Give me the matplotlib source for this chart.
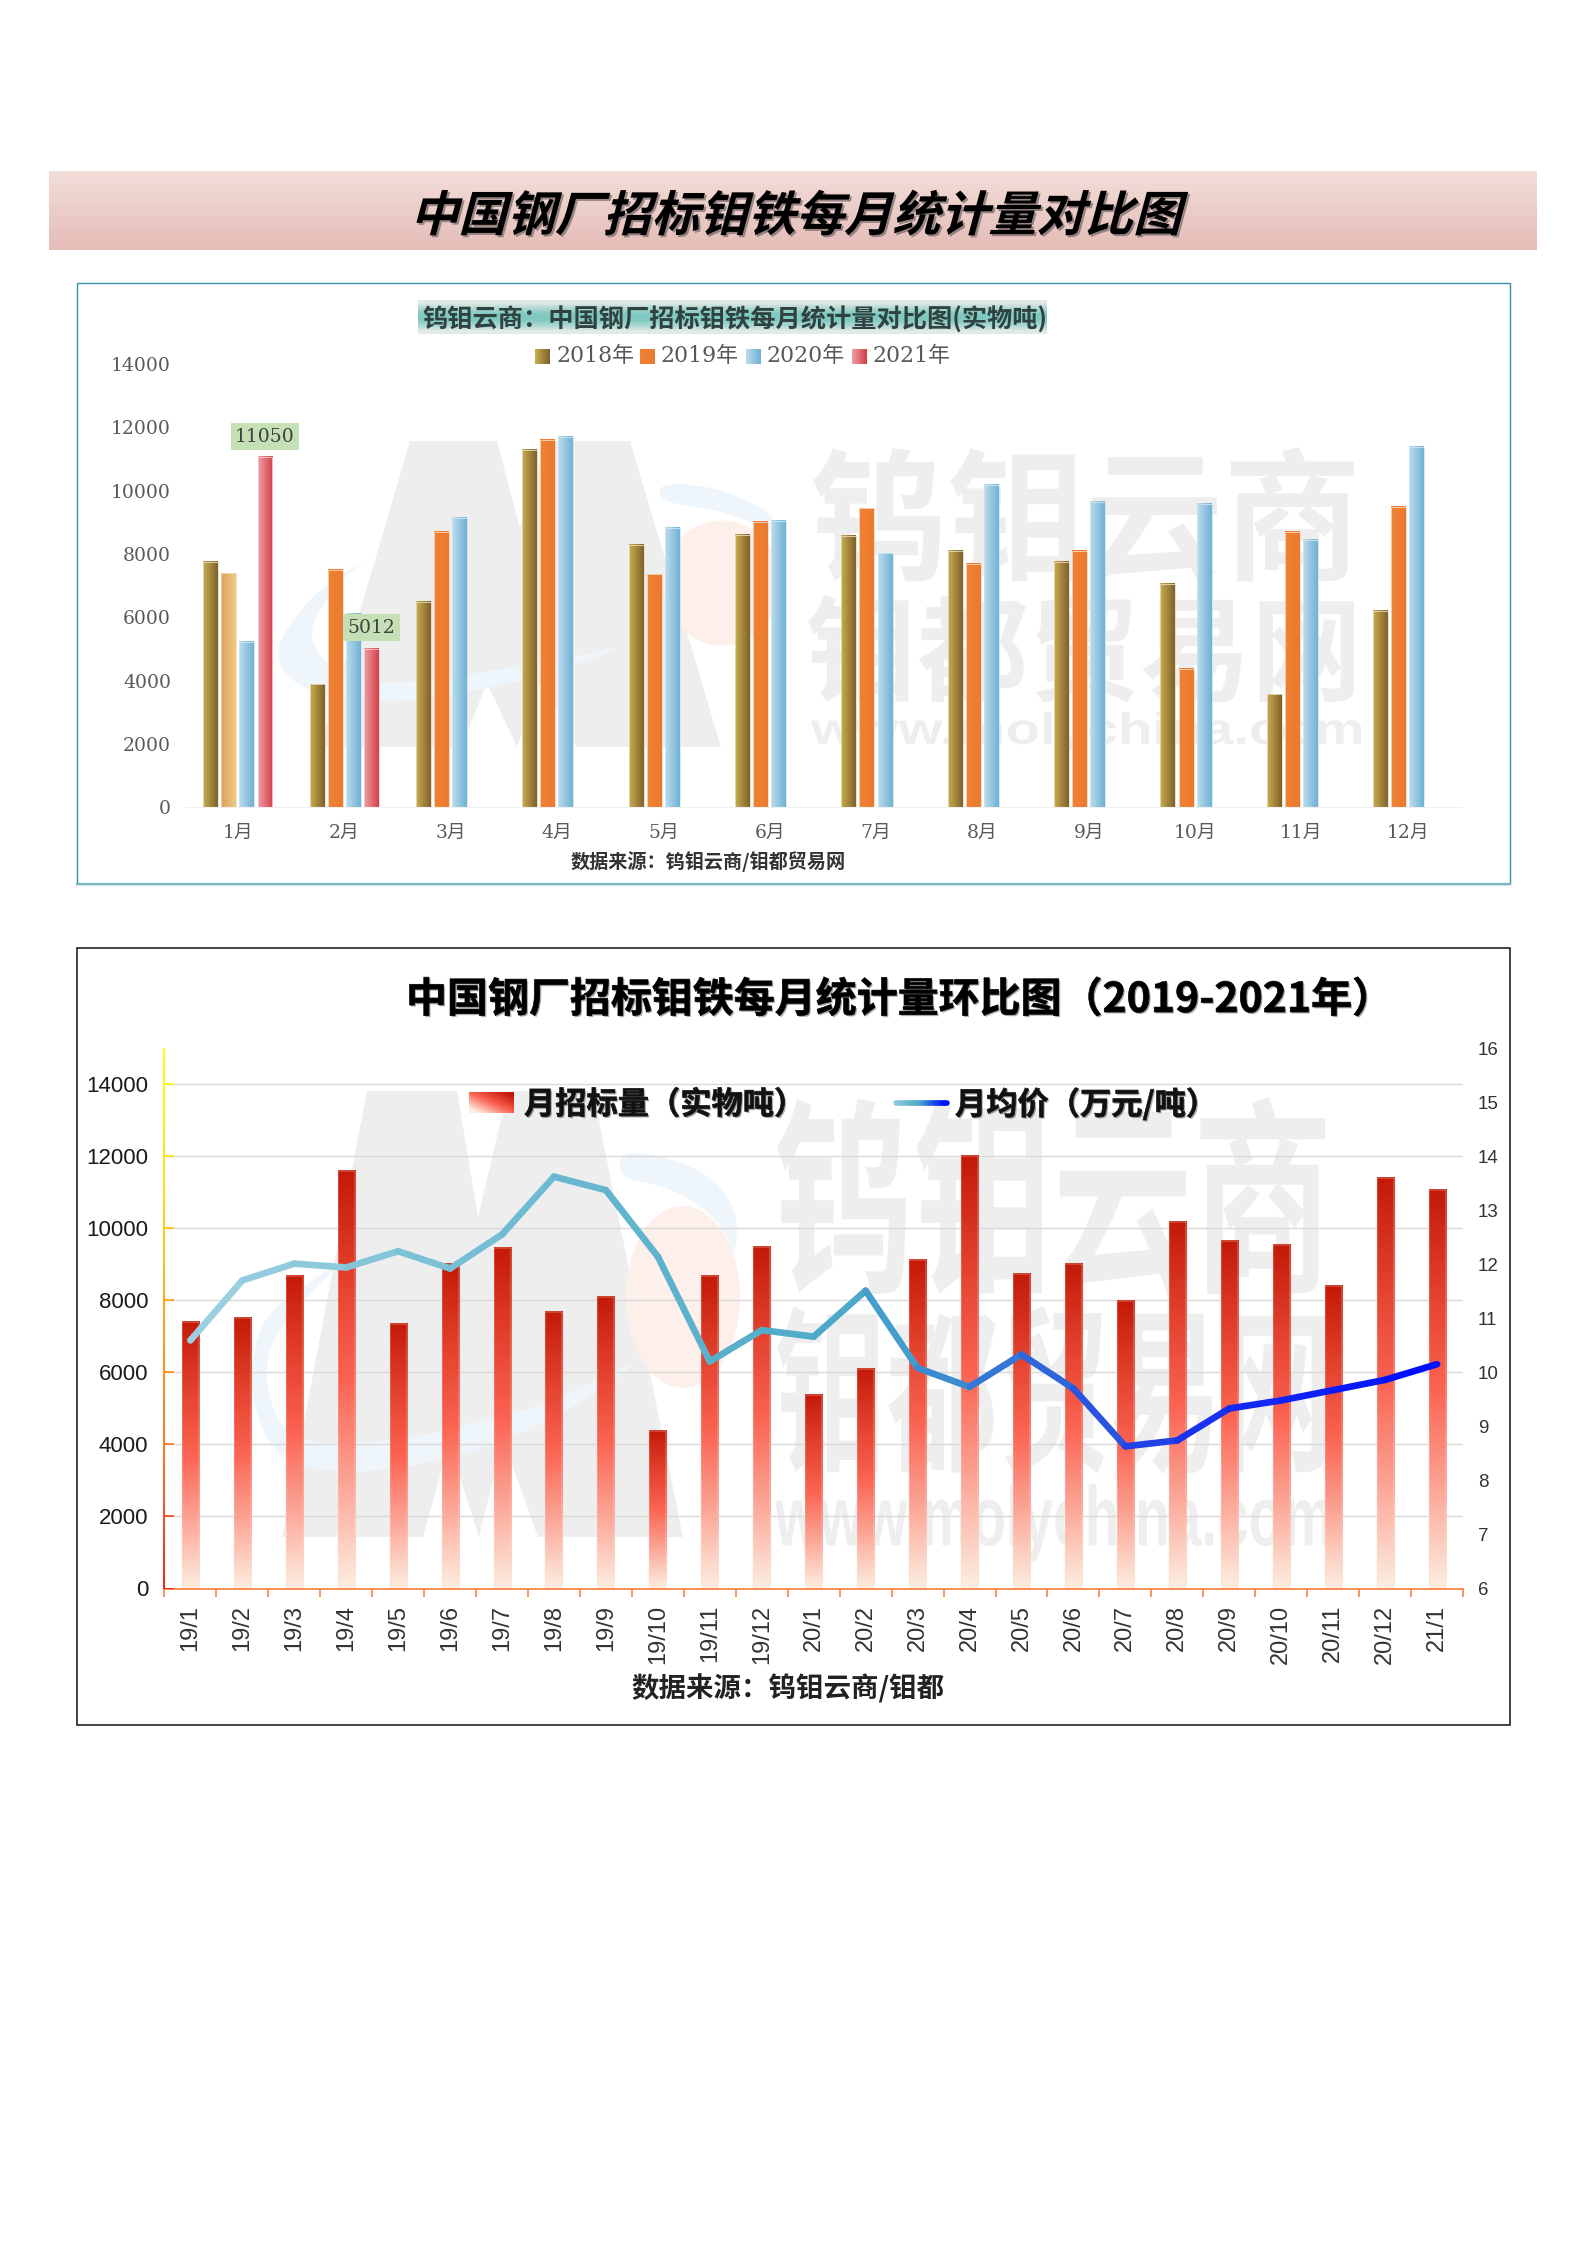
import numpy as np
import matplotlib
matplotlib.use('Agg')
import matplotlib.pyplot as plt
import matplotlib.patheffects as pe
from matplotlib.collections import LineCollection
from matplotlib.colors import LinearSegmentedColormap
from matplotlib.font_manager import FontProperties
from matplotlib.patches import Ellipse, Polygon, Rectangle
from matplotlib.textpath import TextPath
from matplotlib.transforms import Affine2D

plt.rcParams['font.family'] = ['Noto Sans CJK SC', 'DejaVu Sans']

W, H = 1587, 2245
CJK = 'Noto Sans CJK SC'
SERIF = ['DejaVu Serif', CJK]

# chart 1
months = ['1月', '2月', '3月', '4月', '5月', '6月', '7月', '8月', '9月', '10月', '11月', '12月']
vol_2018 = [7762, 3880, 6493, 11295, 8275, 8607, 8577, 8094, 7761, 7052, 3564, 6191]
vol_2019 = [7384, 7505, 8683, 11597, 7354, 9015, 9437, 7686, 8094, 4364, 8683, 9483]
vol_2020 = [5225, 6116, 9136, 11702, 8833, 9045, 8018, 10177, 9649, 9573, 8441, 11370]
vol_2021 = [11050, 5012]
years = ['2018年', '2019年', '2020年', '2021年']
ticks_1 = [0, 2000, 4000, 6000, 8000, 10000, 12000, 14000]

# chart 2
periods = ['19/1', '19/2', '19/3', '19/4', '19/5', '19/6', '19/7', '19/8', '19/9', '19/10', '19/11', '19/12',
           '20/1', '20/2', '20/3', '20/4', '20/5', '20/6', '20/7', '20/8', '20/9', '20/10', '20/11', '20/12', '21/1']
monthly_volume = [7406, 7507, 8683, 11597, 7354, 9015, 9437, 7686, 8094, 4364, 8683, 9483,
                  5358, 6098, 9104, 11990, 8727, 9002, 7986, 10178, 9656, 9525, 8393, 11398, 11064]
monthly_price = [10.59, 11.70, 12.01, 11.94, 12.24, 11.92, 12.55, 13.62, 13.37, 12.14, 10.20, 10.78,
                 10.66, 11.51, 10.08, 9.73, 10.33, 9.70, 8.63, 8.74, 9.33, 9.48, 9.67, 9.86, 10.15]
ticks_left = [0, 2000, 4000, 6000, 8000, 10000, 12000, 14000]
ticks_right = [6, 7, 8, 9, 10, 11, 12, 13, 14, 15, 16]


class WarpText(pe.AbstractPathEffect):
    # text stays text, only the glyph outlines get sheared / stretched
    def __init__(self, sy=1, skew=0, shadow=None, stroke=0):
        super().__init__()
        self.sy, self.skew, self.shadow, self.stroke = sy, skew, shadow, stroke

    def draw_path(self, renderer, gc, tpath, affine, rgbFace=None):
        warp = Affine2D().skew_deg(self.skew, 0).scale(1, self.sy) + affine
        if self.shadow:
            dx, dy, col = self.shadow
            renderer.draw_path(gc, tpath, warp + Affine2D().translate(dx, -dy), col)
        gc0 = renderer.new_gc()
        gc0.copy_properties(gc)
        gc0.set_linewidth(self.stroke)
        if self.stroke:
            gc0.set_foreground(rgbFace)
        renderer.draw_path(gc0, tpath, warp, rgbFace)
        gc0.restore()


def make_cmap(*colors):
    return LinearSegmentedColormap.from_list('c', list(colors))


def add_axes(l, t, r, b, **kw):
    return fig.add_axes([l / W, 1 - b / H, (r - l) / W, (b - t) / H], **kw)


def gradient_bar(ax, x, h, width, cmap, horizontal=True, edge='#ffffff', edge_w=0.6):
    grad = np.linspace(0, 1, 128).reshape(1, -1) if horizontal else np.linspace(0, 1, 256).reshape(-1, 1)
    ax.imshow(grad, extent=[x - width / 2, x + width / 2, 0, h], aspect='auto', cmap=cmap,
              vmin=0, vmax=1, origin='upper', zorder=2, interpolation='nearest')
    ax.bar(x, h, width, facecolor='none', edgecolor=edge, linewidth=edge_w, zorder=2.1)


def fit_text(ax, s, x0, x1, top, bottom, weight='bold', family=CJK):
    # stretch a watermark string to the box it takes in the picture
    bb = TextPath((0, 0), s, size=100, prop=FontProperties(family=family, weight=weight)).get_extents()
    size = 72 * (x1 - x0) / bb.width
    k = size / 72
    sy = (bottom - top) / (bb.height * k)
    ax.text(x0 - bb.x0 * k, bottom + bb.y0 * k * sy, s, fontsize=size, family=family, weight=weight,
            color='#eeeeee', ha='left', va='baseline', zorder=1,
            path_effects=[WarpText(sy)])


def smooth(pts, rounds=2):
    # corner cutting, the logo curves are soft
    for _ in range(rounds):
        nxt = np.roll(pts, -1, axis=0)
        pts = np.column_stack([0.75 * pts + 0.25 * nxt, 0.25 * pts + 0.75 * nxt]).reshape(-1, 2)
    return pts


# logo pieces in picture pixels
m_low = np.array([(282, 1537), (367, 1091), (457, 1091), (478, 1217), (508, 1091), (593, 1091), (683, 1537),
                  (538, 1537), (503, 1439), (479, 1537), (449, 1443), (423, 1537)], float)
swoosh_low = np.array([(340, 1262), (293, 1293), (260, 1323), (251, 1370), (255, 1415), (275, 1452), (303, 1468),
                       (360, 1473), (420, 1465), (483, 1448), (537, 1427), (603, 1390), (643, 1357), (603, 1378),
                       (537, 1407), (487, 1418), (420, 1437), (353, 1443), (310, 1443), (280, 1427), (265, 1385),
                       (270, 1343), (293, 1313), (330, 1273)], float)
swoosh_low_top = np.array([(620, 1152), (660, 1155), (707, 1173), (733, 1203), (738, 1233), (733, 1257), (733, 1250),
                           (720, 1223), (693, 1200), (660, 1185), (620, 1178)], float)
m_up = np.array([(320, 747), (410, 441), (497, 441), (520, 528), (546, 441), (630, 441), (721, 747),
                 (577, 747), (541, 680), (517, 747), (487, 683), (461, 747)], float)
swoosh_up = np.array([(375, 557), (326, 583), (291, 621), (275, 652), (286, 676), (316, 695), (388, 703), (459, 695),
                      (561, 671), (633, 643), (561, 660), (490, 671), (408, 683), (357, 681), (326, 664), (309, 638),
                      (319, 609), (347, 573)], float)
swoosh_up_top = np.array([(660, 482), (714, 487), (760, 506), (775, 520), (775, 535), (760, 525), (714, 509), (660, 502)], float)


def draw_logo(ax, m_pts, arcs, pink):
    ax.add_patch(Polygon(m_pts, fc='#eeeeee', ec='none', zorder=1))
    for arc in arcs:
        ax.add_patch(Polygon(smooth(arc), fc='#eef5fb', ec='none', zorder=1.1))
    ax.add_patch(Ellipse(pink[:2], pink[2], pink[3], fc='#fdefea', ec='none', zorder=1.2))


fig = plt.figure(figsize=(W / 100, H / 100), dpi=100, facecolor='white')

bg = fig.add_axes([0, 0, 1, 1], zorder=-1)
fg = fig.add_axes([0, 0, 1, 1], zorder=10)
fg.patch.set_alpha(0)
for a in (bg, fg):
    a.axis('off')

# banner
fg.imshow(np.linspace(0, 1, 64).reshape(-1, 1), extent=[49, 1537, 250, 171], aspect='auto',
          cmap=make_cmap('#f2ded9', '#e5bcb7'), origin='upper', zorder=1)
fg.text(410, 231, '中国钢厂招标钼铁每月统计量对比图', fontsize=34.7, weight='bold', color='black',
        ha='left', va='baseline', zorder=2,
        path_effects=[WarpText(skew=15, shadow=(2, 2, (0.45, 0.4, 0.4, 0.7)))])

# chart 1 frame and watermark
bg.add_patch(Rectangle((76.5, 282.5), 1433.5, 601, fc='white', ec='#3a8fa8', lw=1, zorder=0))
bg.plot([76.5, 1510], [883.5, 883.5], color='#7db8c0', lw=1.6, zorder=0.5)
draw_logo(bg, m_up, [swoosh_up, swoosh_up_top], (722, 583, 118, 125))
fit_text(bg, '钨钼云商', 813, 1354, 447, 583)
fit_text(bg, '钼都贸易网', 808, 1354, 595, 703)
fit_text(bg, 'www.molychina.com', 811, 1361, 712, 753, family='Liberation Sans')

# chart 2 frame and watermark
bg.add_patch(Rectangle((77, 948), 1433, 777, fc='white', ec='#111111', lw=1.1, zorder=0))
draw_logo(bg, m_low, [swoosh_low, swoosh_low_top], (683, 1297, 114, 182))
fit_text(bg, '钨钼云商', 777, 1325, 1097, 1296)
fit_text(bg, '钼都贸易网', 777, 1325, 1306, 1474)
fit_text(bg, 'www.molychina.com', 775, 1330, 1484, 1563, family='Liberation Sans')

# upper chart
ax1 = add_axes(184.7, 363.9, 1461, 807.4)
ax1.patch.set_alpha(0)
x_pos = np.arange(len(months))
slot = 0.17
bar_w = 0.141
cmap_2018 = make_cmap('#c9ad4e', '#7f612c')
cmap_2019 = make_cmap('#ee8235', '#ec7a2e')
cmap_2019_jan = make_cmap('#dca05c', '#eeca88')
cmap_2020 = make_cmap('#bddcec', '#6fb1d5')
cmap_2021 = make_cmap('#ee9ea5', '#d63e48')
for i, v in enumerate(vol_2018):
    gradient_bar(ax1, x_pos[i] - 1.5 * slot, v, bar_w, cmap_2018, edge='#e8dcc0')
for i, v in enumerate(vol_2019):
    gradient_bar(ax1, x_pos[i] - 0.5 * slot, v, bar_w, cmap_2019_jan if i == 0 else cmap_2019, edge='#f9d9c0')
for i, v in enumerate(vol_2020):
    gradient_bar(ax1, x_pos[i] + 0.5 * slot, v, bar_w, cmap_2020, edge='#cfe6f2')
for i, v in enumerate(vol_2021):
    gradient_bar(ax1, x_pos[i] + 1.5 * slot, v, bar_w, cmap_2021, edge='#f6d0d3')
    ax1.annotate(str(v), (x_pos[i] + 1.5 * slot, v), xytext=(0, 15), textcoords='offset points',
                 ha='center', va='center', fontsize=13.5, family=SERIF, color='#404040', zorder=5,
                 bbox=dict(fc='#c5e0b4', ec='none', pad=3.2))
ax1.set_xlim(-0.5, 11.5)
ax1.set_ylim(0, 14000)
ax1.set_xticks(x_pos, months, family=SERIF, fontsize=13.5, color='#595959')
ax1.set_yticks(ticks_1, [str(t) for t in ticks_1], family=SERIF, fontsize=13.5, color='#595959')
ax1.tick_params(axis='both', length=0)
ax1.tick_params(axis='y', pad=9.9)
ax1.tick_params(axis='x', pad=12)
for name, sp in ax1.spines.items():
    sp.set_visible(name == 'bottom')
ax1.spines['bottom'].set_color('#f0f0f0')

# title strip and legend of the upper chart
fg.imshow(np.array([0, 0.55, 1, 1, 0.55, 0]).reshape(-1, 1), extent=[418, 1047, 334, 300], aspect='auto',
          cmap=make_cmap('#e3e9e7', '#7fc9c1'), origin='upper', zorder=1, interpolation='bilinear')
fg.text(422, 320, '钨钼云商：中国钢厂招标钼铁每月统计量对比图(实物吨)', fontsize=18.2, weight='bold', color='#2f4240',
        ha='left', va='center', zorder=2)
legend_x = [535, 640, 746, 852]
legend_cmaps = [cmap_2018, cmap_2019, cmap_2020, cmap_2021]
for x, name, cm in zip(legend_x, years, legend_cmaps):
    fg.imshow(np.linspace(0, 1, 32).reshape(1, -1), extent=[x, x + 15, 364, 349], aspect='auto', cmap=cm,
              origin='upper', zorder=1)
    fg.text(x + 21, 356.5, name, fontsize=15.8, family=SERIF, color='#595959', ha='left', va='center', zorder=2)
fg.text(571, 862, '数据来源：钨钼云商/钼都贸易网', fontsize=13.8, weight='bold', color='#333333', ha='left', va='center', zorder=2)

# lower chart
ax2 = add_axes(164.4, 1048, 1463, 1588.5)
ax2.patch.set_alpha(0)
x2 = np.arange(len(periods))
cmap_volume = make_cmap('#fdeee0', '#fca596', '#fb6352', '#e2402c', '#c41a08')
cmap_volume_r = cmap_volume.reversed()
for i, v in enumerate(monthly_volume):
    gradient_bar(ax2, x2[i], v, 0.328, cmap_volume_r, horizontal=False, edge='#fde0d8', edge_w=0.3)
ax2.set_xlim(-0.5, 24.5)
ax2.set_ylim(0, 15000)
ax2.set_yticks(ticks_left, [str(t) for t in ticks_left], family='Liberation Sans', fontsize=16, color='#1a1a1a')
ax2.set_xticks(x2, periods, family='Liberation Sans', fontsize=17, color='#333333', rotation=90, ha='center', va='top')
ax2.set_xticks(np.arange(-0.5, 25), minor=True)
ax2.tick_params(axis='x', which='major', length=0, pad=11.6)
ax2.tick_params(axis='x', which='minor', length=5.8, width=1.1, color='#f97a3c', direction='out')
ax2.tick_params(axis='y', length=0, pad=11.5)
ax2.grid(axis='y', color='#d9d9d9', lw=1)
ax2.set_axisbelow(True)
for name, sp in ax2.spines.items():
    sp.set_visible(name == 'bottom')
ax2.spines['bottom'].set_color('#f97a3c')
ax2.spines['bottom'].set_linewidth(1.2)

# left axis runs yellow to red
axis_cmap = make_cmap('#ee1111', '#ff6a1a', '#ff9a00', '#ffe000', '#ffff00')
y_steps = np.linspace(0, 15000, 61)
ax2.add_collection(LineCollection([[(-0.5, a), (-0.5, b)] for a, b in zip(y_steps[:-1], y_steps[1:])],
                                  colors=axis_cmap(y_steps[:-1] / 15000), lw=1.3, clip_on=False, zorder=3))
ax2.hlines(ticks_left, -0.5, -0.31, colors=axis_cmap(np.array(ticks_left) / 15000), lw=1.2, zorder=3)

ax2r = ax2.twinx()
ax2r.set_ylim(6, 16)
ax2r.set_yticks(ticks_right, [str(t) for t in ticks_right], family='Liberation Sans', fontsize=13.5, color='#333333')
ax2r.tick_params(axis='y', length=0, pad=10.8)
for sp in ax2r.spines.values():
    sp.set_visible(False)

price_cmap = LinearSegmentedColormap.from_list(
    'price', [(0, '#9ad0e0'), (0.29, '#68b8d0'), (0.54, '#4aa8c8'), (0.67, '#2f70d8'), (0.75, '#2850e0'),
              (0.83, '#1a30f0'), (1, '#0010ff')])
points = np.c_[x2, monthly_price]
segments = np.stack([points[:-1], points[1:]], axis=1)
ax2r.add_collection(LineCollection(segments, colors=price_cmap(np.linspace(0, 1, len(segments))),
                                   lw=4.8, capstyle='round', joinstyle='round', zorder=5))

# lower chart title, legend and source
strong = [WarpText(shadow=(1.5, 1.5, (0.4, 0.4, 0.4, 0.55)), stroke=0.5)]
fg.text(406, 1012, '中国钢厂招标钼铁每月统计量环比图（2019-2021年）', fontsize=29.5, weight='bold', color='black',
        ha='left', va='baseline', zorder=2, path_effects=strong)
diag = np.add.outer(np.linspace(1, 0, 32), np.linspace(0, 1, 64)) / 2
fg.imshow(diag, extent=[469, 514, 1113, 1092], aspect='auto', cmap=make_cmap('#fdeee0', '#fb6352', '#c41a08'),
          origin='upper', vmin=0.1, vmax=0.9, zorder=1, interpolation='bilinear')
fg.text(524, 1105, '月招标量（实物吨）', fontsize=22.5, weight='bold', color='#111111', ha='left', va='center', zorder=2,
        path_effects=strong)
swatch = np.linspace(896, 947, 17)
fg.add_collection(LineCollection([[(a, 1103), (b, 1103)] for a, b in zip(swatch[:-1], swatch[1:])],
                                 colors=make_cmap('#8fcbdc', '#4aa8c8', '#0010ff')(np.linspace(0, 1, 16)), lw=4, capstyle='round', zorder=2))
fg.text(955, 1105, '月均价（万元/吨）', fontsize=22.5, weight='bold', color='#111111', ha='left', va='center', zorder=2,
        path_effects=strong)
fg.text(631, 1689, '数据来源：钨钼云商/钼都', fontsize=19.8, weight='bold', color='#222222', ha='left', va='center', zorder=2)

for a in (bg, fg):
    a.set_xlim(0, W)
    a.set_ylim(H, 0)

fig.savefig('out.png', dpi=100)
